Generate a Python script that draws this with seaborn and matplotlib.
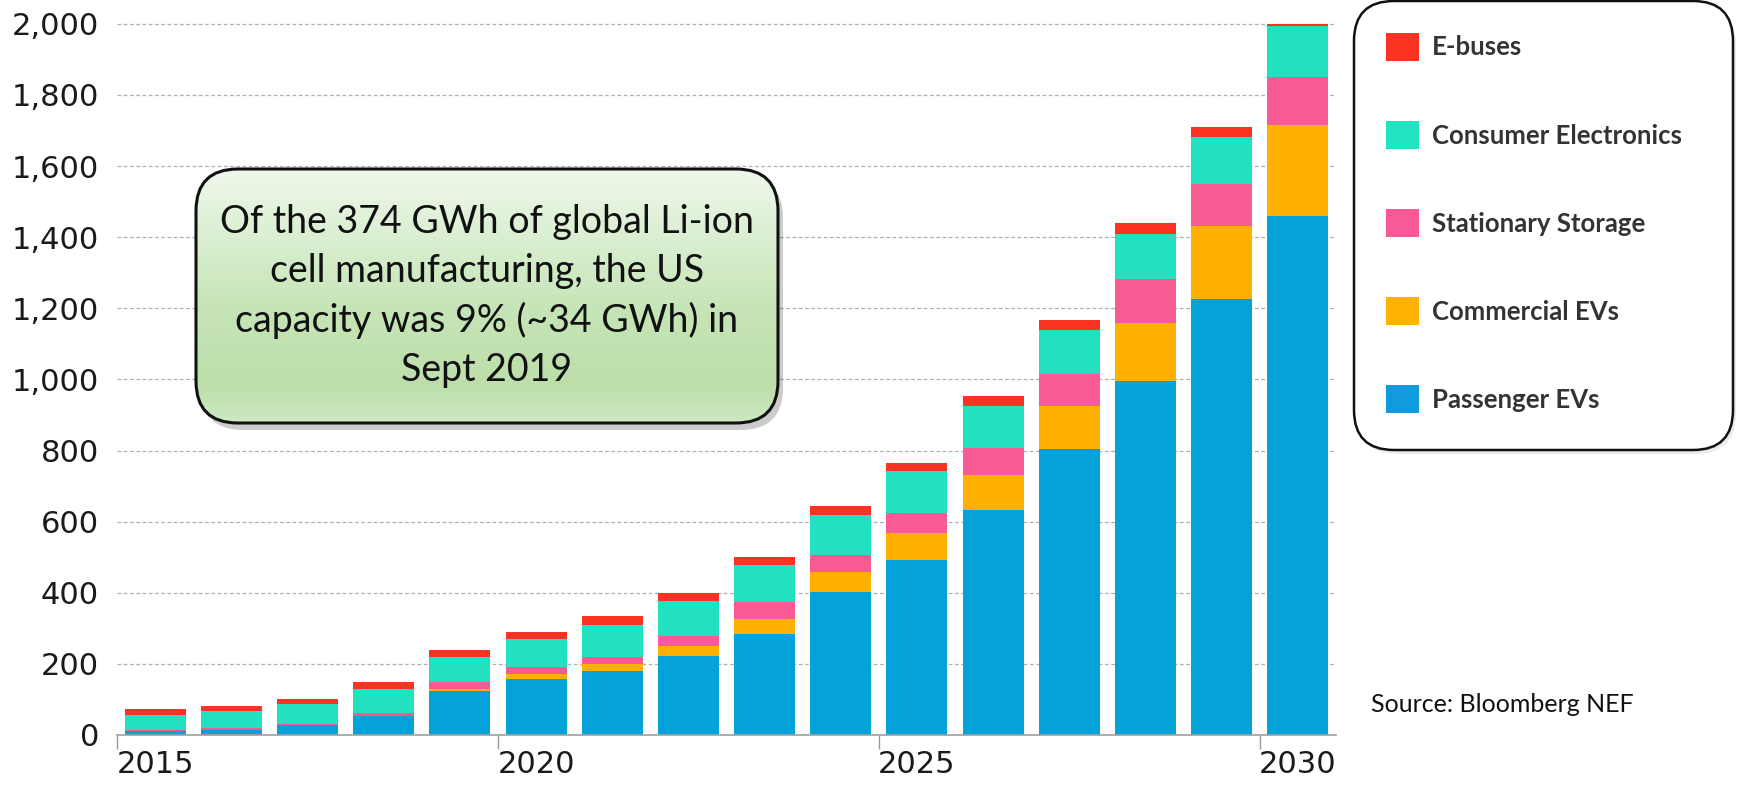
import numpy as np
import pandas as pd
import matplotlib
matplotlib.use("Agg")
import matplotlib.pyplot as plt
import seaborn as sns
from matplotlib.patches import FancyBboxPatch, Patch
from matplotlib.ticker import FuncFormatter
from matplotlib.colors import LinearSegmentedColormap

# ---------------- data ----------------
years = list(range(2015, 2031))
passenger_evs = [10, 15, 29, 53, 125, 157, 180, 223, 285, 402, 493, 633, 803, 995, 1226, 1460]
commercial_evs = [0, 0, 0, 0, 5, 14, 19, 28, 42, 57, 75, 99, 122, 165, 206, 255]
stationary_storage = [5, 5, 1, 9, 18, 19, 20, 28, 47, 47, 56, 75, 90, 122, 118, 136]
consumer_electronics = [42, 47, 57, 67, 72, 80, 90, 99, 104, 114, 118, 118, 123, 126, 132, 142]
e_buses = [15, 15, 15, 20, 20, 20, 25, 20, 23, 23, 24, 29, 28, 31, 28, 7]

series_names = ["Passenger EVs", "Commercial EVs", "Stationary Storage",
                "Consumer Electronics", "E-buses"]
series_colors = ["#03A3DA", "#FFB000", "#F85B94", "#22E1C1", "#FC3323"]
legend_colors = ["#109CDC", "#FFB200", "#F95A97", "#22E3C2", "#FC3322"]
x_label_years = [2015, 2020, 2025, 2030]
y_ticks = [0, 200, 400, 600, 800, 1000, 1200, 1400, 1600, 1800, 2000]
note_text = ("Of the 374 GWh of global Li-ion\ncell manufacturing, the US\n"
             "capacity was 9% (~34 GWh) in\nSept 2019")
source_text = "Source: Bloomberg NEF"

# ---------------- frame ----------------
sns.set_theme(style="white")
W, H = 1737, 785
fig = plt.figure(figsize=(W / 100, H / 100), dpi=100)
ax = fig.add_axes([117 / W, 1 - 735 / H, (1336 - 117) / W, (735 - 21) / H])

df = pd.DataFrame({
    "year": [str(y) for y in years],
    series_names[0]: passenger_evs,
    series_names[1]: commercial_evs,
    series_names[2]: stationary_storage,
    series_names[3]: consumer_electronics,
    series_names[4]: e_buses,
})
cum = df[series_names].cumsum(axis=1)
cum["year"] = df["year"]

# draw tallest cumulative first so lower layers overlay
for name, col in list(zip(series_names, series_colors))[::-1]:
    sns.barplot(data=cum, x="year", y=name, color=col, saturation=1,
                width=0.8, errorbar=None, ax=ax, linewidth=0, zorder=3)

ax.set_ylim(0, 2008)
ax.set_xlim(-0.5, len(years) - 0.5)
ax.set_yticks(y_ticks)
ax.yaxis.set_major_formatter(FuncFormatter(lambda v, p: f"{int(v):,}"))
ax.set_xticks([years.index(y) for y in x_label_years])
ax.set_xticklabels([str(y) for y in x_label_years])
ax.set_xticks([years.index(y) - 0.5 for y in x_label_years], minor=True)
ax.tick_params(axis="x", which="major", length=0, pad=11, labelsize=22,
               labelcolor="#1a1a1a")
ax.tick_params(axis="x", which="minor", length=10, width=1, color="#9a9a9a",
               direction="out", bottom=True)
ax.tick_params(axis="y", length=0, pad=13, labelsize=22, labelcolor="#1a1a1a")
for lab in ax.get_xticklabels() + ax.get_yticklabels():
    lab.set_family("DejaVu Sans")
ax.set_xlabel("")
ax.set_ylabel("")
ax.yaxis.grid(True, linestyle=(0, (3, 2)), color="#b0b0b0", linewidth=0.9, zorder=0)
ax.set_axisbelow(True)
for s in ["left", "top", "right"]:
    ax.spines[s].set_visible(False)
ax.spines["bottom"].set_color("#a0a0a0")
ax.spines["bottom"].set_linewidth(1.2)
ax.spines["bottom"].set_zorder(4)

# ---------------- overlay (annotation box, legend box, source) ----------------
ov = fig.add_axes([0, 0, 1, 1], zorder=10)
ov.set_xlim(0, W)
ov.set_ylim(H, 0)
ov.axis("off")
ov.patch.set_alpha(0)

bx, by, bw, bh = 196, 169, 582, 254
ov.add_patch(FancyBboxPatch((bx + 5, by + 7), bw, bh,
                            boxstyle="round,pad=0,rounding_size=42",
                            fc="#000000", ec="none", alpha=0.2, zorder=1))
box = FancyBboxPatch((bx, by), bw, bh, boxstyle="round,pad=0,rounding_size=42",
                     fc="none", ec="#111111", lw=2.2, zorder=3)
ov.add_patch(box)
gcmap = LinearSegmentedColormap.from_list(
    "g", [(0, "#EEF8EB"), (0.55, "#C6E5B7"), (0.85, "#BCDFAA"), (1, "#CDE9C2")])
grad = np.linspace(0, 1, 256).reshape(-1, 1)
im = ov.imshow(grad, cmap=gcmap, extent=(bx, bx + bw, by + bh, by),
               aspect="auto", origin="upper", zorder=2)
im.set_clip_path(box)
ov.set_xlim(0, W)
ov.set_ylim(H, 0)
ov.text(bx + bw / 2, 296, note_text, ha="center", va="center", fontsize=27,
        family="Lato", color="#111111", linespacing=1.45, zorder=4)

ov.text(1371, 705, source_text, ha="left", va="center", fontsize=18,
        family="Lato", color="#111111")

# legend frame
lx, ly, lw_, lh = 1354, 1, 379, 449
ov.add_patch(FancyBboxPatch((lx + 3, ly + 4), lw_, lh,
                            boxstyle="round,pad=0,rounding_size=40",
                            fc="#000000", ec="none", alpha=0.08, zorder=1))
ov.add_patch(FancyBboxPatch((lx, ly), lw_, lh,
                            boxstyle="round,pad=0,rounding_size=40",
                            fc="white", ec="#111111", lw=1.8, zorder=2))

# ---------------- legend ----------------
handles = [Patch(facecolor=c, edgecolor="none", label=n)
           for n, c in zip(series_names, legend_colors)][::-1]
leg = fig.legend(handles=handles, loc="upper left",
                 bbox_to_anchor=(1386 / W, 1 - 33 / H),
                 prop={"family": "Lato", "weight": "bold", "size": 18.5},
                 labelcolor="#333333", frameon=False, handlelength=1.28,
                 handleheight=1.28, handletextpad=0.5, labelspacing=2.35,
                 borderpad=0, borderaxespad=0)
leg.set_zorder(20)

fig.savefig("out.png", dpi=100)
